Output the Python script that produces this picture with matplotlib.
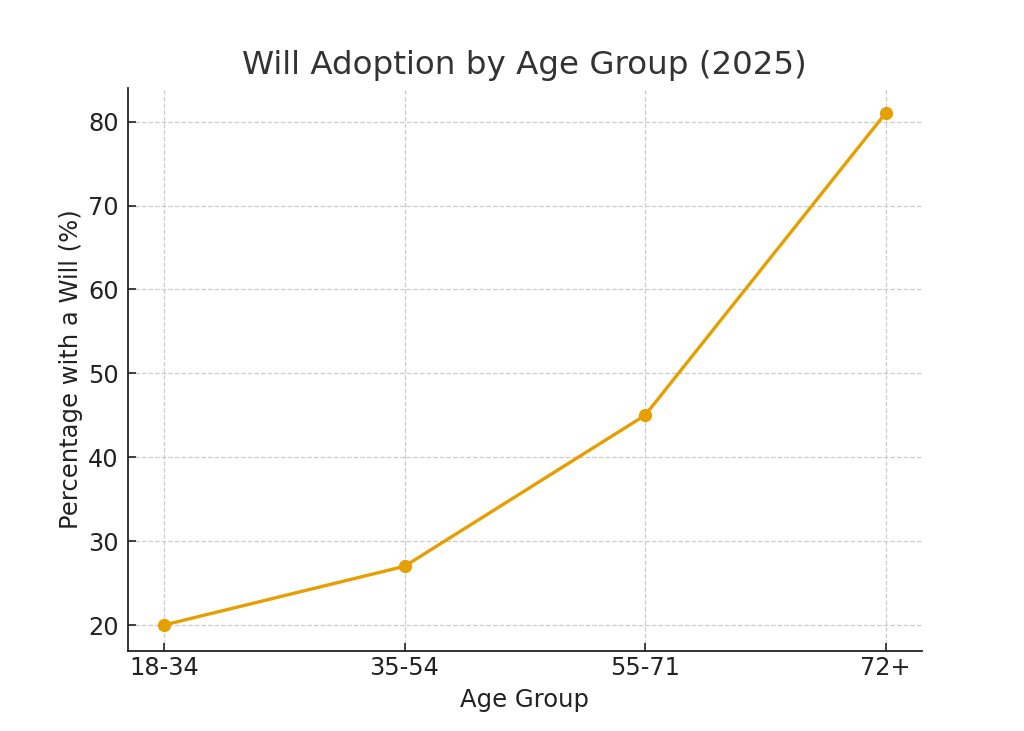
import matplotlib.pyplot as plt

age_groups = ["18-34", "35-54", "55-71", "72+"]
will_pct = [20, 27, 45, 81]

fig, ax = plt.subplots(figsize=(10.24, 7.31), dpi=100)
fig.subplots_adjust(left=0.125, right=0.9, bottom=0.11, top=0.88)

ax.plot(age_groups, will_pct, color="#E69F00", linewidth=2.4,
        marker="o", markersize=8.5)

ax.set_title("Will Adoption by Age Group (2025)", fontsize=23.4, color="#333333", pad=10)
ax.set_xlabel("Age Group", fontsize=17.5, color="#222222", labelpad=6)
ax.set_ylabel("Percentage with a Will (%)", fontsize=17.5, color="#222222", labelpad=4)
ax.tick_params(labelsize=17.3, length=5.5, width=1.2, colors="#222222",
               direction="in")
ax.tick_params(axis="y", pad=6.5)
ax.tick_params(axis="x", pad=4)
ax.grid(True, linestyle="--", color="#cccccc", linewidth=0.9)
ax.set_axisbelow(True)

for side in ["top", "right"]:
    ax.spines[side].set_visible(False)
for side in ["left", "bottom"]:
    ax.spines[side].set_linewidth(1.3)
    ax.spines[side].set_color("#222222")

fig.savefig("out.png", dpi=100)
